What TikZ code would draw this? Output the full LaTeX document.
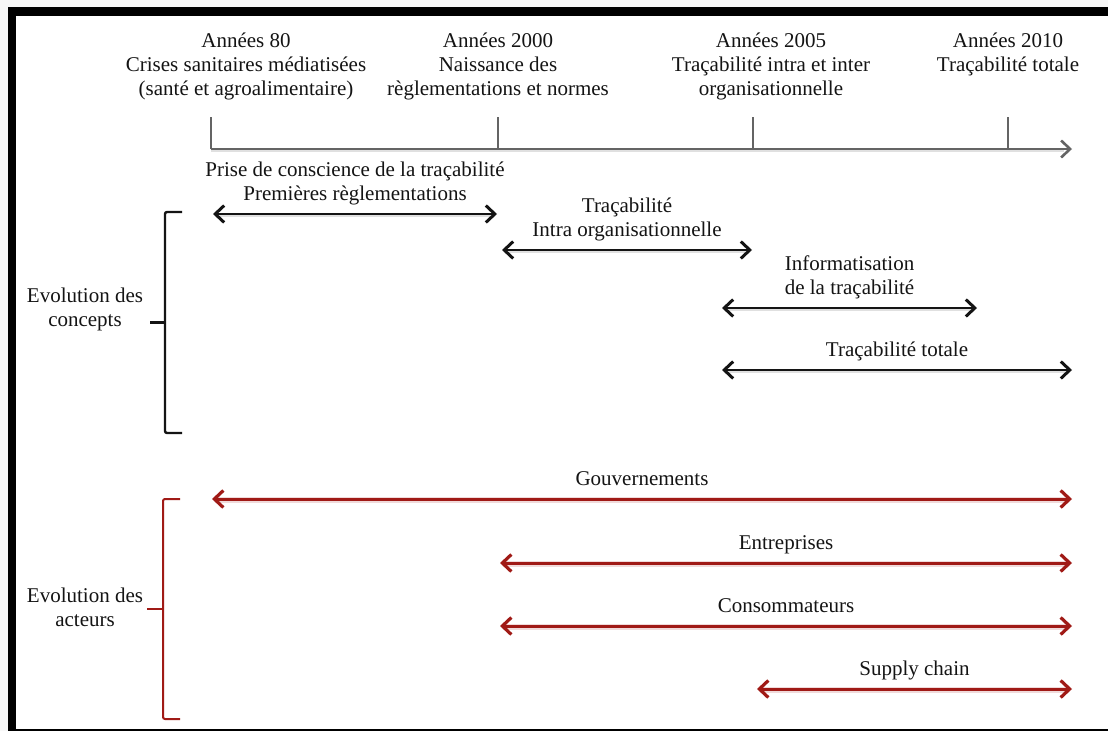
\documentclass[tikz,border=0pt]{standalone}
\usepackage{fontspec}
\setmainfont{Liberation Serif}
\usetikzlibrary{arrows.meta,calc}
\definecolor{axisgray}{RGB}{100,100,100}
\definecolor{actred}{RGB}{160,26,22}
\definecolor{inkblack}{RGB}{20,20,20}
\begin{document}
\begin{tikzpicture}[x=1pt,y=-1pt,
  txt/.style={inner sep=0pt, align=center, font=\fontsize{21}{24}\selectfont, text=inkblack},
  lbl/.style={txt, anchor=south},
  head/.style={txt, anchor=north},
  conceptspan/.style={draw=inkblack, line width=2.6pt, {Straight Barb[length=9pt,width=17pt,line width=3pt]}-{Straight Barb[length=9pt,width=17pt,line width=3pt]}},
  actorspan/.style={draw=actred, line width=3pt, {Straight Barb[length=9pt,width=17pt,line width=3.2pt]}-{Straight Barb[length=9pt,width=17pt,line width=3.2pt]}},
  softshadow/.style={draw=black!12, line width=4pt, transform canvas={yshift=-1pt}},
  redglow/.style={draw=actred!16, line width=6pt, transform canvas={yshift=-0.8pt}},
  timeaxis/.style={draw=axisgray, line width=2.4pt, -{Straight Barb[length=9pt,width=17pt,line width=2.6pt]}},
  tickmark/.style={draw=axisgray, line width=2.6pt},
  bracket/.style={line width=2.4pt, rounded corners=2pt}
]
% page and frame
\fill[gray!6] (0,0) rectangle (1108,731);
\fill[white] (16,16) rectangle (1108,729);
\fill[black] (8,7) rectangle (1108,16);
\fill[black] (8,7) rectangle (16,731);
\fill[black] (8,729) rectangle (1108,731);
\useasboundingbox (0,0) rectangle (1108,731);

% time axis
\coordinate (t80) at (211,149);
\coordinate (t2000) at (498,149);
\coordinate (t2005) at (753,149);
\coordinate (t2010) at (1008,149);
\coordinate (tend) at (1072,149);
\draw[softshadow] (t80) -- (1064,149);
\draw[timeaxis] (t80) -- (tend);
\foreach \t in {t80,t2000,t2005,t2010}
  \draw[tickmark] (\t) -- ++(0,-32);

% period headings
\node[head] (h80) at (246,30) {Années 80\strut\\Crises sanitaires médiatisées\strut\\(santé et agroalimentaire)\strut};
\node[head] (h2000) at (498,30) {Années 2000\strut\\Naissance des\strut\\règlementations et normes\strut};
\node[head] (h2005) at (771,30) {Années 2005\strut\\Traçabilité intra et inter\strut\\organisationnelle\strut};
\node[head] (h2010) at (1008,30) {Années 2010\strut\\Traçabilité totale\strut};

% concepts
\coordinate (c1l) at (213,214); \coordinate (c1r) at (497,214);
\coordinate (c2l) at (502,250); \coordinate (c2r) at (752,250);
\coordinate (c3l) at (722,308); \coordinate (c3r) at (977,308);
\coordinate (c4l) at (722,370); \coordinate (c4r) at (1072,370);
\foreach \a/\b in {c1l/c1r,c2l/c2r,c3l/c3r,c4l/c4r}{
  \draw[softshadow] ($(\a)+(6,0)$) -- ($(\b)+(-6,0)$);
  \draw[conceptspan] (\a) -- (\b);
}
\node[lbl] (l1) at ($(c1l)!0.5!(c1r)+(0,-6)$) {Prise de conscience de la traçabilité\strut\\Premières règlementations\strut};
\node[lbl] (l2) at ($(c2l)!0.5!(c2r)+(0,-6)$) {Traçabilité\strut\\Intra organisationnelle\strut};
\node[lbl] (l3) at ($(c3l)!0.5!(c3r)+(0,-6)$) {Informatisation\strut\\de la traçabilité\strut};
\node[lbl] (l4) at ($(c4l)!0.5!(c4r)+(0,-6)$) {Traçabilité totale\strut};

% actors
\coordinate (a1l) at (212,499); \coordinate (a1r) at (1072,499);
\coordinate (a2l) at (500,563); \coordinate (a2r) at (1072,563);
\coordinate (a3l) at (500,626); \coordinate (a3r) at (1072,626);
\coordinate (a4l) at (757,689); \coordinate (a4r) at (1072,689);
\foreach \a/\b in {a1l/a1r,a2l/a2r,a3l/a3r,a4l/a4r}{
  \draw[redglow] ($(\a)+(6,0)$) -- ($(\b)+(-6,0)$);
  \draw[actorspan] (\a) -- (\b);
}
\node[lbl] (m1) at ($(a1l)!0.5!(a1r)+(0,-6)$) {Gouvernements\strut};
\node[lbl] (m2) at ($(a2l)!0.5!(a2r)+(0,-6)$) {Entreprises\strut};
\node[lbl] (m3) at ($(a3l)!0.5!(a3r)+(0,-6)$) {Consommateurs\strut};
\node[lbl] (m4) at ($(a4l)!0.5!(a4r)+(0,-6)$) {Supply chain\strut};

% group brackets
\node[txt] (gc) at (85,310) {Evolution des\strut\\concepts\strut};
\draw[bracket, draw=inkblack] (182,212) -- (165,212) -- (165,433) -- (182,433);
\coordinate (gcb) at (165,322.5);
\draw[bracket, draw=inkblack] (gcb) -- ++(-15,0);

\node[txt] (ga) at (85,610) {Evolution des\strut\\acteurs\strut};
\draw[bracket, draw=actred, line width=2pt] (180,499) -- (163,499) -- (163,719) -- (180,719);
\coordinate (gab) at (163,609);
\draw[bracket, draw=actred, line width=2pt] (gab) -- ++(-16,0);
\end{tikzpicture}
\end{document}
